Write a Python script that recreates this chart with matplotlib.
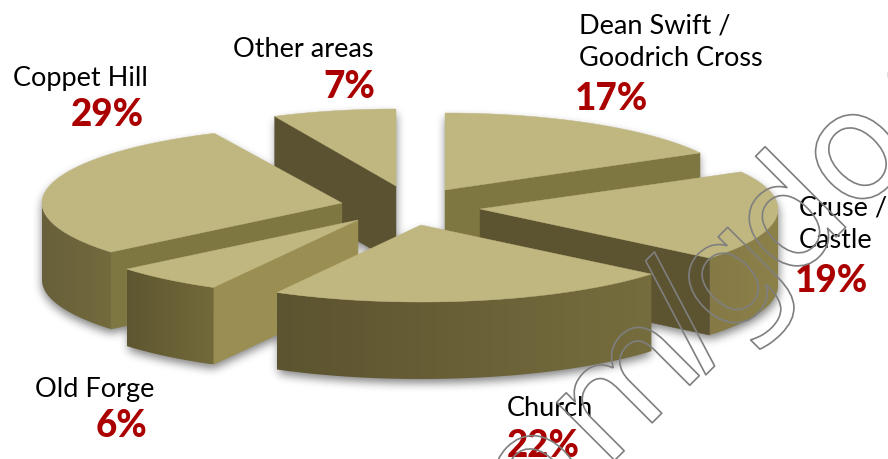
#! /usr/bin/env python
# Exploded 3D-looking pie of shares per area, with outlined overlay text.

import numpy as np
import matplotlib
matplotlib.use('Agg')
from matplotlib import pyplot as plt
from matplotlib.backends.backend_agg import FigureCanvasAgg
from matplotlib.colors import LinearSegmentedColormap
from matplotlib.figure import Figure
from matplotlib.patches import Polygon
import matplotlib.patheffects as pe

# data, clockwise from twelve o'clock
labels = ['Dean Swift /\nGoodrich Cross', 'Cruse /\nCastle', 'Church',
          'Old Forge', 'Coppet Hill', 'Other areas']
shares = [17, 19, 22, 6, 29, 7]

# where each exploded slice has its tip (pixels), and its radii
tip_x = [445, 480, 421, 358, 342, 396]
tip_y = [190, 209, 225, 220, 203, 186]
radius_x = [291, 298, 299, 300, 300, 285]
radius_y = [77, 77, 77, 77, 77, 77]
DEPTH = 77

# wall colours per slice
rim_left = ['#7f7742', '#857a46', '#5c5330', '#5e5630', '#68603a', '#5a5230']
rim_right = ['#7f7742', '#8c8149', '#766d3e', '#736a3b', '#736a3d', '#5a5230']
wall_colour = ['#7f7742', '#5c5330', '#5c5330', '#9a8e52', '#7f7742', '#5a5230']
TOP_COLOUR = '#c0b680'

# label anchors (left edge, baseline of last name line, percent baseline)
name_x = [579, 799, 507, 35, 13, 233]
name_y = [66, 248, 416, 397, 86, 57]
pct_x = [575, 795, 507, 96, 71, 323]
pct_y = [110, 292, 457, 437, 126, 98]

# overlay letters and the origin of each one
overlay_letters = ['o', 'm', '/', 'g', 'd', 'o', 'o']
overlay_x = [534, 605, 696, 728, 788, 854, 927]
overlay_y = [539, 470, 365, 343, 285, 218, 141]

# back to front
draw_order = [5, 0, 4, 1, 3, 2]

WIDTH, HEIGHT = 888, 459

plt.rcParams['font.family'] = ['Lato', 'DejaVu Sans']


def rim_points(i, a0, a1):
    # points of the outer edge of slice i between two clockwise angles (deg)
    t = np.radians(np.linspace(a0, a1, 80))
    x = tip_x[i] + radius_x[i] * np.sin(t)
    y = tip_y[i] - radius_y[i] * np.cos(t)
    return np.column_stack([x, y])


def extrude(points):
    # closed wall hanging below a run of top-face points
    return np.vstack([points, points[::-1] + [0, DEPTH]])


def gradient_fill(ax, points, left, right, z):
    # horizontal gradient clipped to a polygon
    cmap = LinearSegmentedColormap.from_list('wall', [left, right])
    x0, x1 = points[:, 0].min(), points[:, 0].max()
    y0, y1 = points[:, 1].min(), points[:, 1].max()
    im = ax.imshow(np.linspace(0, 1, 256).reshape(1, -1), cmap=cmap, aspect='auto',
                   extent=(x0, x1, y1, y0), zorder=z, interpolation='bilinear')
    im.set_clip_path(Polygon(points, closed=True, transform=ax.transData))


def box_blur(mask, size):
    kernel = np.ones(size) / size
    for axis in (0, 1):
        mask = np.apply_along_axis(lambda v: np.convolve(v, kernel, mode='same'), axis, mask)
    return mask


def shadow_layer(cuts, drop=5, strength=0.5):
    # draw all slice silhouettes off-screen, then blur them into an RGBA image
    fig = Figure(figsize=(WIDTH / 100, HEIGHT / 100), dpi=100)
    canvas = FigureCanvasAgg(fig)
    ax = fig.add_axes([0, 0, 1, 1])
    for i in range(len(shares)):
        top = np.vstack([[tip_x[i], tip_y[i]], rim_points(i, cuts[i], cuts[i + 1])])
        for d in range(0, DEPTH + 1, 2):
            ax.fill(top[:, 0], top[:, 1] + d + drop, color='black', linewidth=0)
    ax.set_xlim(0, WIDTH)
    ax.set_ylim(HEIGHT, 0)
    ax.axis('off')
    canvas.draw()
    mask = 1 - np.asarray(canvas.buffer_rgba())[:, :, 0] / 255.0
    for _ in range(3):
        mask = box_blur(mask, 9)
    layer = np.zeros(mask.shape + (4,))
    layer[:, :, 3] = mask * strength
    return layer


def main():
    fig = plt.figure(figsize=(WIDTH / 100, HEIGHT / 100), dpi=100)
    ax = fig.add_axes([0, 0, 1, 1])

    cuts = np.cumsum([0] + shares) * 3.6
    z = 3

    ax.imshow(shadow_layer(cuts), extent=(0, WIDTH, HEIGHT, 0), aspect='auto', zorder=2)

    for i in draw_order:
        a0, a1 = cuts[i], cuts[i + 1]
        tip = np.array([tip_x[i], tip_y[i]], dtype=float)
        arc = rim_points(i, a0, a1)

        # radial walls that face the viewer
        if np.sin(np.radians(a0)) < -1e-6:
            ax.add_patch(Polygon(extrude(np.vstack([tip, arc[0]])), closed=True,
                                 facecolor=wall_colour[i], edgecolor=wall_colour[i],
                                 linewidth=0.3, zorder=z))
            z += 1
        if np.sin(np.radians(a1)) > 1e-6:
            ax.add_patch(Polygon(extrude(np.vstack([tip, arc[-1]])), closed=True,
                                 facecolor=wall_colour[i], edgecolor=wall_colour[i],
                                 linewidth=0.3, zorder=z))
            z += 1

        # curved wall, only the front half of the ellipse shows
        lo, hi = max(a0, 90), min(a1, 270)
        if hi > lo:
            gradient_fill(ax, extrude(rim_points(i, lo, hi)), rim_left[i], rim_right[i], z)
            z += 1

        ax.add_patch(Polygon(np.vstack([tip, arc]), closed=True, facecolor=TOP_COLOUR,
                             edgecolor=TOP_COLOUR, linewidth=0.3, zorder=z))
        z += 1

    # names and percentages
    for i, name in enumerate(labels):
        ax.text(name_x[i], name_y[i], name, fontsize=19.5, color='black', ha='left',
                va='baseline', linespacing=1.37, zorder=50)
        ax.text(pct_x[i], pct_y[i], '%d%%' % shares[i], fontsize=26.5, fontweight='black',
                color='#aa0000', ha='left', va='baseline', zorder=51)

    # outlined overlay lettering running up to the right
    for letter, x, y in zip(overlay_letters, overlay_x, overlay_y):
        ax.text(x, y, letter, fontsize=108, family='DejaVu Sans', color=(1, 1, 1, 0),
                rotation=45, rotation_mode='anchor', ha='left', va='baseline', zorder=60,
                path_effects=[pe.Stroke(linewidth=1.2, foreground='#7f7f7f')])

    ax.set_xlim(0, WIDTH)
    ax.set_ylim(HEIGHT, 0)
    ax.axis('off')
    fig.savefig('out.png', dpi=100)


if __name__ == '__main__':
    main()
